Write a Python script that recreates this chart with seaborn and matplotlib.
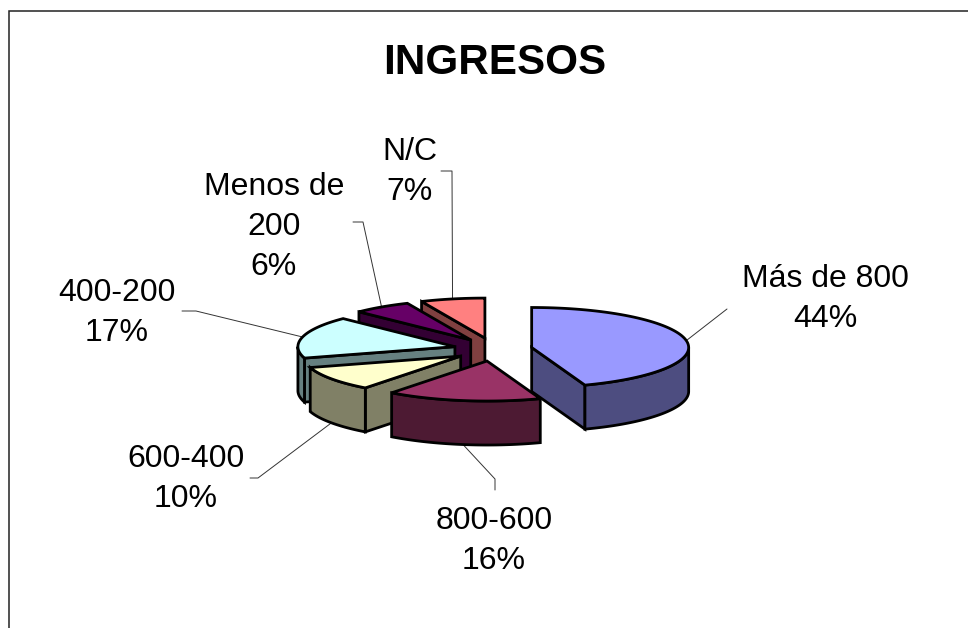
import numpy as np
import matplotlib
matplotlib.use("Agg")
import matplotlib.pyplot as plt
import seaborn as sns

# --- data ---
categories = ["Más de 800", "800-600", "600-400", "400-200", "Menos de\n200", "N/C"]
values = [44.49, 15.9, 10.0, 17.0, 6.0, 6.61]
title = "INGRESOS"

# --- style ---
top_colors = sns.color_palette(["#9999FF", "#993366", "#FFFFCC", "#CCFFFF", "#660066", "#FF8080"])
draw_order = [5, 4, 3, 0, 2, 1]
label_xy = [(825, 299), (494, 541), (186, 479), (117, 313), (274, 227), (410, 172)]
# leader path: points from the label towards the slice
leader_knots = [[(727, 309)], [(495, 490), (495, 479)], [(250, 478), (258, 478)],
                [(182, 311), (196, 311)], [(353, 222), (363, 222)], [(441, 171), (452, 171)]]
CX, CY, RX, RY, DEPTH, EXPLODE = 493, 349.5, 157, 40, 44, 0.25
LW = 2.0

sns.set_theme(style="white")
plt.rcParams["font.family"] = ["Liberation Sans", "DejaVu Sans"]

fig = plt.figure(figsize=(9.68, 6.28), dpi=100)
ax = fig.add_axes([0, 0, 1, 1])
ax.set_xlim(0, 968)
ax.set_ylim(628, 0)
ax.axis("off")

# chart frame: only the left and top edges fall inside the picture
ax.plot([9, 9, 968], [628, 11, 11], color="#222222", lw=1.1, solid_joinstyle="miter")

total = sum(values)
edges = np.cumsum([0] + values) / total * 2 * np.pi


def pt(c, th):
    return np.array([c[0] + RX * np.sin(th), c[1] - RY * np.cos(th)])


def poly(points, color):
    points = np.asarray(points)
    ax.fill(points[:, 0], points[:, 1], facecolor=color, edgecolor="black", lw=LW,
            joinstyle="miter", zorder=3)


centers, mids = [], []
for i in range(len(values)):
    mid = (edges[i] + edges[i + 1]) / 2
    mids.append(mid)
    centers.append((CX + EXPLODE * RX * np.sin(mid), CY - EXPLODE * RY * np.cos(mid) * 1.166))

# leader lines, under the slices
for i in range(len(values)):
    a = pt(centers[i], mids[i])
    if np.cos(mids[i]) < 0:
        a = a + [0, DEPTH]
    path = np.array(leader_knots[i] + [tuple(a)])
    ax.plot(path[:, 0], path[:, 1], color="#333333", lw=0.7, zorder=2)

# slices, back to front
for i in draw_order:
    c = np.array(centers[i])
    t1, t2 = edges[i], edges[i + 1]
    top = top_colors[i]
    side = tuple(v * 0.5 for v in top)
    down = np.array([0, DEPTH])
    if np.sin(t1) < -1e-6:
        p = pt(c, t1)
        poly([c, p, p + down, c + down], side)
    if np.sin(t2) > 1e-6:
        p = pt(c, t2)
        poly([c, p, p + down, c + down], side)
    a, b = max(t1, np.pi / 2), min(t2, 3 * np.pi / 2)
    if b > a:
        th = np.linspace(a, b, 60)
        rim = np.array([pt(c, x) for x in th])
        poly(np.vstack([rim, rim[::-1] + down]), side)
    th = np.linspace(t1, t2, 80)
    poly(np.vstack([[c], [pt(c, x) for x in th]]), top)

# labels
for name, v, xy in zip(categories, values, label_xy):
    ax.text(xy[0], xy[1], f"{name}\n{round(v / total * 100):d}%", ha="center", va="center",
            fontsize=23, color="black", linespacing=1.43, zorder=5)

ax.text(495, 63, title, ha="center", va="center", fontsize=30.4, fontweight="bold", color="black")

fig.savefig("out.png", dpi=100, facecolor="white")
